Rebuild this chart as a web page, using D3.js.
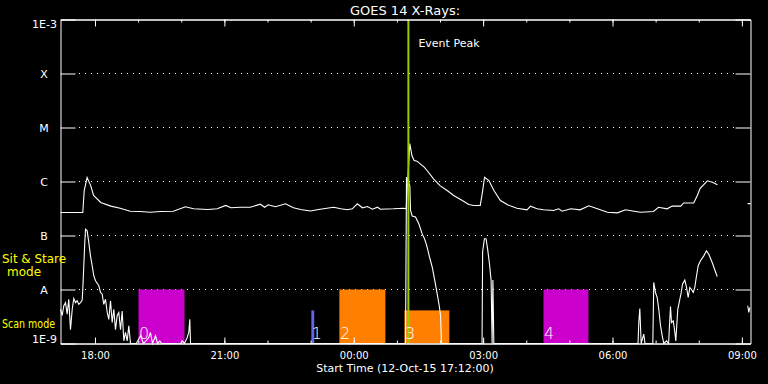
<!DOCTYPE html>
<html>
<head>
<meta charset="utf-8">
<script src="https://cdn.jsdelivr.net/npm/d3@7"></script>
<style>
  html, body { margin: 0; padding: 0; background: #000; }
  svg { display: block; }
  text { font-family: "DejaVu Sans", sans-serif; fill: #fff; }
</style>
</head>
<body>
<svg id="chart" width="768" height="384"></svg>
<script>
const START = Date.UTC(2015, 9, 12, 17, 12);
const SPAN_MIN = 960;

const fluxLevels = [1e-3, 1e-4, 1e-5, 1e-6, 1e-7, 1e-8, 1e-9];
const fluxLabels = ["1E-3", "X", "M", "C", "B", "A", "1E-9"];

// 1-8 A channel: minutes after start, W/m^2 (null = gap)
const longMin = [0, 31, 33, 37, 42, 46, 56, 70, 83, 97, 111, 125, 139, 157, 174, 185, 205, 218, 230, 237,
  250, 264, 278, 284, 289, 299, 313, 324, 334, 348, 357, 366, 380, 390, 399, 406, 413, 420, 427, 434,
  441, 445, 463, 477, 481, 486, 489, 492, 496, 506, 510, 519, 528, 538, 547, 559, 568, 575, 584, 587,
  590, 596, 603, 612, 622, 635, 649, 654, 663, 672, 686, 693, 698, 710, 723, 735, 747, 761, 775, 786,
  798, 807, 825, 832, 844, 851, 863, 867, 881, 886, 890, 900, 907, 914, 935, 956, 960];
const longFlux = [2.67e-7, 2.67e-7, 6.8e-7, 1.19e-6, 8.4e-7, 5.5e-7, 4.1e-7, 3.5e-7, 3.2e-7, 2.82e-7,
  2.78e-7, 2.7e-7, 2.78e-7, 2.82e-7, 3.4e-7, 3.12e-7, 3.03e-7, 3.12e-7, 3.6e-7, 3.26e-7,
  3.34e-7, 3.34e-7, 3.8e-7, 3.34e-7, 3.7e-7, 3.4e-7, 3.86e-7, 3.26e-7, 3.03e-7, 2.84e-7,
  2.99e-7, 3.12e-7, 3.34e-7, 3.12e-7, 2.99e-7, 3.12e-7, 3.86e-7, 3.26e-7, 3.44e-7, 3.07e-7,
  3.34e-7, 3.07e-7, 3.12e-7, 3.2e-7, 3.12e-7, 5.06e-6, 3.0e-6, 2.45e-6, 2.38e-6, 1.84e-6,
  1.6e-6, 1.12e-6, 8.4e-7, 6.8e-7, 5.5e-7, 4.45e-7, 3.75e-7, 3.6e-7, 3.6e-7, 6.3e-7,
  1.2e-6, 1.04e-6, 6.8e-7, 4.45e-7, 3.7e-7, 3.2e-7, 2.99e-7, 3.5e-7, 3.12e-7, 2.99e-7,
  2.9e-7, 3.12e-7, 2.82e-7, 3.12e-7, 2.99e-7, 3.55e-7, 3.12e-7, 2.7e-7, 2.63e-7, 2.99e-7,
  2.82e-7, 2.7e-7, 2.78e-7, 3.34e-7, 3.12e-7, 3.5e-7, 3.5e-7, 4.0e-7, 4.0e-7, 5.5e-7,
  7.5e-7, 1.03e-6, 9.7e-7, 8.7e-7, null, 3.9e-7, 3.9e-7];

// 0.5-4 A channel
const shortMin = [0, 2.4, 4.6, 7.0, 9.3, 11.5, 13.9, 16.3, 18.5, 20.9, 23.2, 25.5, 27.8, 30.2, 31.0,
  32.4, 33.8, 34.8, 37.1, 39.4, 41.7, 44.1, 46.3, 48.7, 53.3, 55.7, 58.0, 60.2, 62.6, 65.0,
  67.2, 69.6, 71.9, 74.2, 76.5, 78.9, 81.1, 83.5, 85.8, 88.1, 90.4, 92.8, 95.0, 97.4, 105.5,
  107.5, 111.3, 115.5, 122.9, 125.2, 128.0, 132.2, 135.0, 138.2, 140.5,
  167.0, 169.7, 172.5, 176.3, 178.5, 179.9, 180.9,
  480.0, 481.4, 486.0, 487.0, 489.3, 493.9, 498.5, 503.2, 506.4, 508.8, 510.6, 513.4, 517.2,
  520.3, 524.1, 526.9, 528.7, 530.1,
  586.5, 587.3, 589.8, 592.1, 594.5, 596.8, 599.1, 600.5, 601.6, 602.9,
  803.5, 804.6, 806.0, 807.9, 811.5, 813.2, 824.1, 825.4, 827.8, 830.2, 832.4, 834.8, 837.2, 839.4,
  843.2, 846.0, 848.7, 850.1, 852.5, 854.2, 856.1, 858.8, 861.7, 863.6, 865.4, 868.6, 871.0,
  873.3, 875.6, 877.9, 880.3, 882.5, 884.9, 887.2, 890.4, 895.0, 898.8, 902.0, 906.7, 909.9, 913.7,
  935, 956.2, 957.6, 959.0];
const shortFlux = [4.3e-9, 3.3e-9, 5.0e-9, 5.7e-9, 3.5e-9, 6.6e-9, 1.8e-9, 4.3e-9, 6.8e-9, 5.7e-9,
  6.2e-9, 5.3e-9, 5.7e-9, 6.4e-9, 1.0e-8, 2.75e-8, 7.4e-8, 1.31e-7, 1.22e-7, 7.4e-8,
  4.2e-8, 2.75e-8, 1.8e-8, 1.45e-8, 1.17e-8, 8.8e-9, 8.2e-9, 5.3e-9, 6.6e-9, 3.75e-9,
  2.8e-9, 6.2e-9, 2.45e-9, 4.3e-9, 1.8e-9, 3.3e-9, 3.75e-9, 1.8e-9, 4.0e-9, 1.12e-9,
  1.6e-9, 1.12e-9, 2.13e-9, 1.0e-9, 1.0e-9,
  1.12e-9, 1.39e-9, 1.0e-9, 1.29e-9, 1.6e-9, 1.0e-9, 1.39e-9, 1.0e-9, 1.12e-9, 1.0e-9,
  1.0e-9, 1.12e-9, 1.0e-9, 1.29e-9, 1.62e-9, 2.8e-9, 1.0e-9,
  1.0e-9, 1.2e-6, 8.4e-7, 2.9e-7, 2.3e-7, 2.2e-7, 1.65e-7, 1.07e-7, 8.7e-8, 7.0e-8, 5.7e-8,
  4.0e-8, 2.6e-8, 1.58e-8, 8.3e-9, 5.05e-9, 3.3e-9, 1.0e-9,
  1.0e-9, 5.0e-8, 8.7e-8, 8.7e-8, 5.3e-8, 3.0e-8, 1.47e-8, 1.0e-9, 1.5e-8, 1.0e-9,
  1.0e-9, 2.45e-9, 4.45e-9, 1.0e-9, 1.49e-9, 1.0e-9, 1.0e-9, 1.35e-8, 8.8e-9, 7.1e-9, 4.3e-9,
  2.13e-9, 1.39e-9, 1.0e-9, 1.12e-9, 1.0e-9, 4.84e-9, 2.45e-9, 2.63e-9, 1.84e-9, 1.12e-9,
  4.3e-9, 6.6e-9, 8.8e-9, 1.25e-8, 1.5e-8, 1.09e-8, 7.1e-9, 1.09e-8, 1.0e-8, 8.8e-9,
  1.09e-8, 1.8e-8, 2.75e-8, 3.4e-8, 4.2e-8, 5.2e-8, 4.5e-8, 3.16e-8, 2.4e-8, 1.74e-8,
  null, 5.0e-9, 3.75e-9, 4.64e-9];

// observation windows
const obsLabels = ["0", "1", "2", "3", "4"];
const obsStartMin = [108.5, 349, 388, 478.5, 672];
const obsEndMin = [172.5, 353, 452, 541, 734.5];
const obsMode = ["stare", "scan", "stare", "scan", "stare"];
const obsColor = ["#cc00cc", "#6464f0", "#ff8000", "#ff8000", "#cc00cc"];
const modeTop = { stare: 1e-8, scan: 4.1e-9 };

const eventPeakMin = 484;

const toDate = (m) => new Date(START + m * 60000);

const svg = d3.select("#chart");
const x = d3.scaleUtc().domain([toDate(0), toDate(SPAN_MIN)]).range([60.5, 750.5]);
const y = d3.scaleLog().domain([1e-9, 1e-3]).range([343.5, 19.5]).clamp(true);

// gridlines
svg.append("g").selectAll("line")
  .data(fluxLevels.slice(1, -1))
  .join("line")
  .attr("x1", 79).attr("x2", 735)
  .attr("y1", (d) => y(d)).attr("y2", (d) => y(d))
  .attr("stroke", "#fff")
  .attr("stroke-dasharray", "1,5");

// observation bars
svg.append("g").selectAll("rect")
  .data(obsLabels)
  .join("rect")
  .attr("x", (_, i) => x(toDate(obsStartMin[i])))
  .attr("y", (_, i) => y(modeTop[obsMode[i]]))
  .attr("width", (_, i) => x(toDate(obsEndMin[i])) - x(toDate(obsStartMin[i])))
  .attr("height", (_, i) => y(1e-9) - y(modeTop[obsMode[i]]))
  .attr("fill", (_, i) => obsColor[i]);

// curves
function series(mins, flux) {
  return mins.map((m, i) => ({ t: toDate(m), v: flux[i] }));
}
const line = d3.line()
  .defined((d) => d.v != null)
  .x((d) => x(d.t))
  .y((d) => y(d.v));

[series(longMin, longFlux), series(shortMin, shortFlux)].forEach((s) => {
  svg.append("path")
    .datum(s)
    .attr("fill", "none")
    .attr("stroke", "#fff")
    .attr("stroke-width", 1.1)
    .attr("d", line);
});

// event peak
svg.append("line")
  .attr("x1", x(toDate(eventPeakMin))).attr("x2", x(toDate(eventPeakMin)))
  .attr("y1", y(1e-3)).attr("y2", y(1e-9))
  .attr("stroke", "#99cc00")
  .attr("stroke-width", 2);
svg.append("text")
  .attr("x", x(toDate(eventPeakMin)) + 10)
  .attr("y", 47)
  .attr("font-size", 11)
  .text("Event Peak");

// bar numbers
svg.append("g").selectAll("text")
  .data(obsLabels)
  .join("text")
  .attr("x", (_, i) => x(toDate(obsStartMin[i])) + 0.5)
  .attr("y", 339)
  .attr("font-size", 16)
  .attr("font-weight", 200)
  .text((d) => d);

// axes
const axisStyle = (g) => g.attr("color", "#fff").attr("font-family", "DejaVu Sans").attr("font-size", 10);
svg.append("g").attr("transform", "translate(60.5,0)")
  .call(d3.axisLeft(y).tickValues(fluxLevels).tickSize(-15).tickSizeOuter(0).tickFormat(""))
  .call(axisStyle);
svg.append("g").attr("transform", "translate(750.5,0)")
  .call(d3.axisRight(y).tickValues(fluxLevels).tickSize(-15).tickSizeOuter(0).tickFormat(""))
  .call(axisStyle);
svg.append("g").attr("transform", "translate(0,343.5)")
  .call(d3.axisBottom(x).ticks(d3.utcHour.every(3)).tickSize(-6).tickSizeOuter(0).tickPadding(8)
    .tickFormat(d3.utcFormat("%H:%M")))
  .call(axisStyle);
svg.append("g").attr("transform", "translate(0,343.5)")
  .call(d3.axisBottom(x).ticks(d3.utcHour.every(1)).tickSize(-3).tickSizeOuter(0).tickFormat(""))
  .call(axisStyle);
svg.append("g").attr("transform", "translate(0,19.5)")
  .call(d3.axisTop(x).ticks(d3.utcHour.every(3)).tickSize(-7).tickSizeOuter(0).tickFormat(""))
  .call(axisStyle);
svg.append("g").attr("transform", "translate(0,19.5)")
  .call(d3.axisTop(x).ticks(d3.utcHour.every(1)).tickSize(-3).tickSizeOuter(0).tickFormat(""))
  .call(axisStyle);

// y labels
svg.append("g").selectAll("text")
  .data(fluxLabels)
  .join("text")
  .attr("x", (d, i) => (i === 0 || i === fluxLabels.length - 1 ? 57 : 44))
  .attr("y", (d, i) => y(fluxLevels[i]) + (i === 0 ? 8 : i === fluxLabels.length - 1 ? -1 : 4))
  .attr("text-anchor", (d, i) => (i === 0 || i === fluxLabels.length - 1 ? "end" : "middle"))
  .attr("font-size", 11)
  .text((d) => d);

// mode labels
const modeText = svg.append("g").attr("font-size", 12);
modeText.append("text").attr("x", 2).attr("y", 262.5).attr("textLength", 64)
  .attr("lengthAdjust", "spacingAndGlyphs").style("fill", "#ffff00").text("Sit & Stare");
modeText.append("text").attr("x", 24).attr("y", 276).attr("text-anchor", "middle").style("fill", "#ffff00").text("mode");
modeText.append("text").attr("x", 2).attr("y", 328).attr("textLength", 53).attr("lengthAdjust", "spacingAndGlyphs")
  .style("fill", "#ffff00").text("Scan mode");

// titles
svg.append("text")
  .attr("x", 405).attr("y", 15)
  .attr("text-anchor", "middle")
  .attr("font-size", 13)
  .text("GOES 14 X-Rays:");
svg.append("text")
  .attr("x", 405).attr("y", 372)
  .attr("text-anchor", "middle")
  .attr("font-size", 11)
  .text("Start Time (12-Oct-15 17:12:00)");
</script>
</body>
</html>
